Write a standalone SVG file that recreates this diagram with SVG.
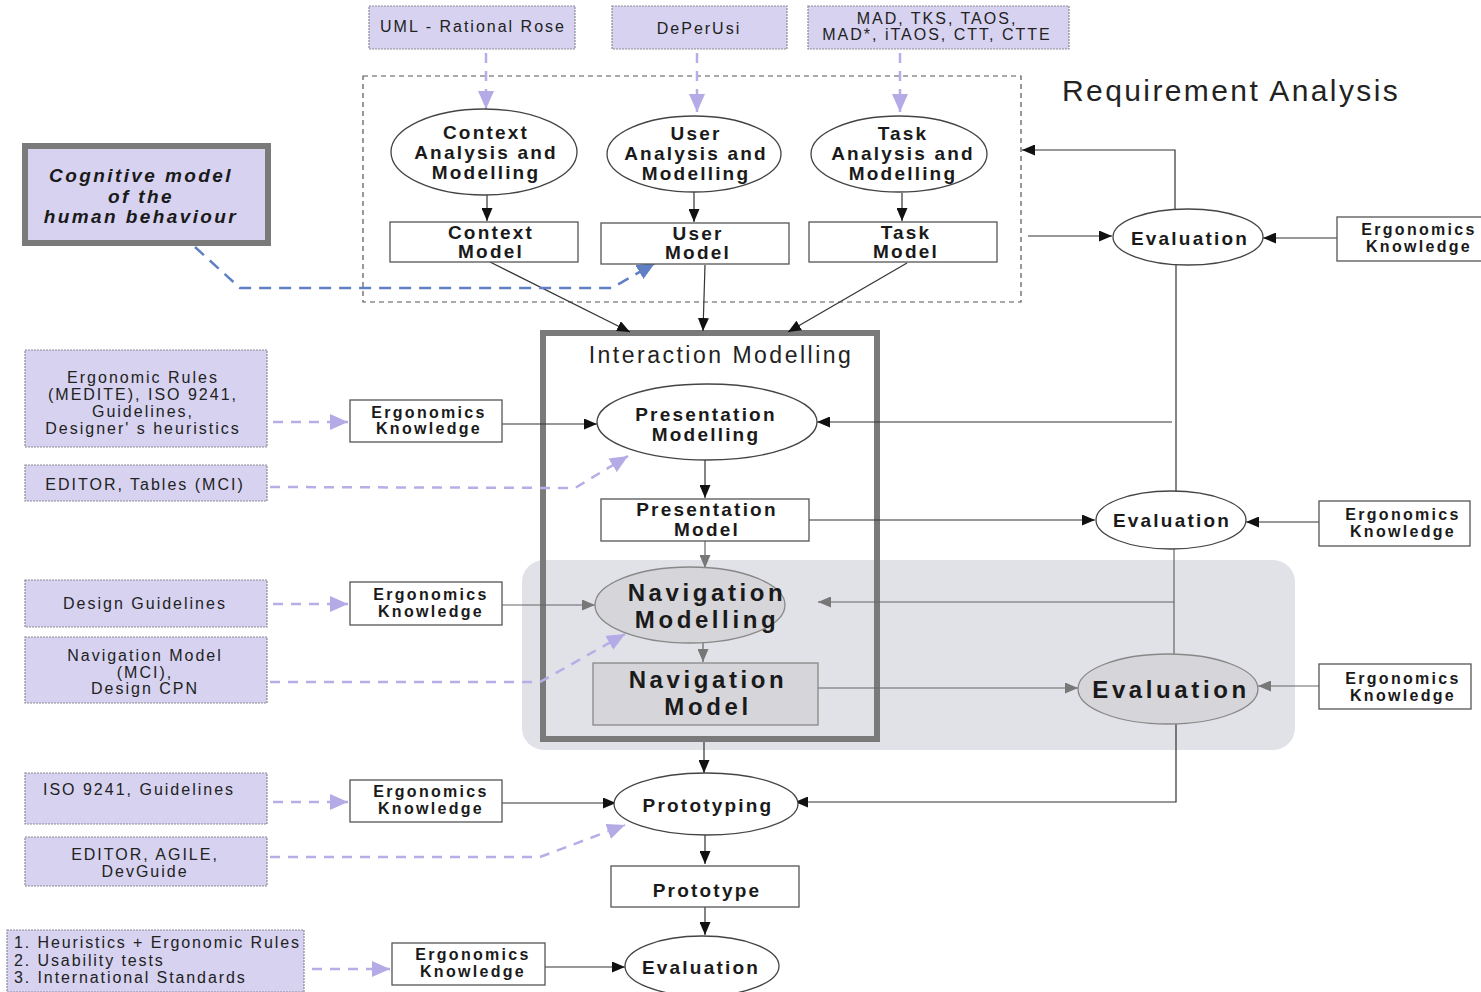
<svg xmlns="http://www.w3.org/2000/svg" width="1481" height="992" viewBox="0 0 1481 992">
  <style>
    .bg { fill: #ffffff; }
    .tool { fill: #d6d2f0; stroke: #8a8a96; stroke-width: 1.2; stroke-dasharray: 2 1; }
    .tooltxt { font-family: "Liberation Sans", Arial, sans-serif; font-size: 16px; letter-spacing: 2px; fill: #222; text-anchor: middle; }
    .tooltxt-left { font-family: "Liberation Sans", Arial, sans-serif; font-size: 16px; letter-spacing: 1.9px; fill: #222; text-anchor: start; }
    .box { fill: #ffffff; stroke: #555; stroke-width: 1.3; }
    .ell { fill: #ffffff; stroke: #444; stroke-width: 1.3; }
    .grayfill { fill: #d5d5da; stroke: #888; stroke-width: 1.3; }
    .lbl { font-family: "Liberation Sans", Arial, sans-serif; font-weight: bold; font-size: 19px; letter-spacing: 2.2px; fill: #1a1a1a; text-anchor: middle; }
    .lblsm { font-family: "Liberation Sans", Arial, sans-serif; font-weight: bold; font-size: 16px; letter-spacing: 2.3px; fill: #1a1a1a; text-anchor: middle; }
    .lblbig { font-family: "Liberation Sans", Arial, sans-serif; font-weight: bold; font-size: 24px; letter-spacing: 3.6px; fill: #1a1a1a; text-anchor: middle; }
    .lblit { font-family: "Liberation Sans", Arial, sans-serif; font-weight: bold; font-style: italic; font-size: 19px; letter-spacing: 2.4px; fill: #1a1a1a; text-anchor: middle; }
    .title { font-family: "Liberation Sans", Arial, sans-serif; font-size: 30px; letter-spacing: 2.4px; fill: #222; }
    .subtitle { font-family: "Liberation Sans", Arial, sans-serif; font-size: 23px; letter-spacing: 2.5px; fill: #222; text-anchor: middle; }
    .flow { fill: none; stroke: #333; stroke-width: 1.2; marker-end: url(#ah); }
    .flowg { fill: none; stroke: #666; stroke-width: 1.2; marker-end: url(#ahg); }
    .plain { fill: none; stroke: #333; stroke-width: 1.2; }
    .plaing { fill: none; stroke: #666; stroke-width: 1.2; }
    .tooldash { fill: none; stroke: #b6aee6; stroke-width: 2.5; stroke-dasharray: 10 8; marker-end: url(#ahl); }
    .bluedash { fill: none; stroke: #5f80c4; stroke-width: 2.5; stroke-dasharray: 12 8; marker-end: url(#ahb); }
  </style>
  <defs>
    <marker id="ah" markerUnits="userSpaceOnUse" markerWidth="13" markerHeight="11" refX="13" refY="5.5" orient="auto">
      <path d="M0,0 L13,5.5 L0,11 z" fill="#111"/>
    </marker>
    <marker id="ahg" markerUnits="userSpaceOnUse" markerWidth="13" markerHeight="11" refX="13" refY="5.5" orient="auto">
      <path d="M0,0 L13,5.5 L0,11 z" fill="#777"/>
    </marker>
    <marker id="ahl" markerUnits="userSpaceOnUse" markerWidth="18" markerHeight="16" refX="18" refY="8" orient="auto">
      <path d="M0,0 L18,8 L0,16 z" fill="#b3aae6"/>
    </marker>
    <marker id="ahb" markerUnits="userSpaceOnUse" markerWidth="18" markerHeight="16" refX="18" refY="8" orient="auto">
      <path d="M0,0 L18,8 L0,16 z" fill="#5f80c4"/>
    </marker>
  </defs>

  <rect class="bg" x="0" y="0" width="1481" height="992"/>

  <!-- navigation stage backdrop -->
  <rect id="navigation-zone" x="522" y="560" width="773" height="190" rx="22" fill="#e1e1e8"/>

  <!-- requirement analysis frame -->
  <g id="requirement-analysis">
    <rect x="363" y="76" width="658" height="226" fill="none" stroke="#555" stroke-width="1.2" stroke-dasharray="5 4"/>
    <text class="title" x="1062" y="101">Requirement Analysis</text>
  </g>

  <!-- interaction modelling frame -->
  <g id="interaction-modelling">
    <rect x="543" y="333" width="334" height="406" fill="none" stroke="#7a7a7a" stroke-width="6"/>
    <text class="subtitle" x="721" y="363">Interaction Modelling</text>
  </g>

  <!-- connectors -->
  <g id="connectors">
    <!-- tool inputs at the top -->
    <line class="tooldash" x1="486" y1="53" x2="486" y2="109"/>
    <line class="tooldash" x1="697" y1="53" x2="697" y2="112"/>
    <line class="tooldash" x1="900" y1="53" x2="900" y2="112"/>
    <!-- analysis to models -->
    <line class="flow" x1="487" y1="195" x2="487" y2="221"/>
    <line class="flow" x1="694" y1="192" x2="694" y2="222"/>
    <line class="flow" x1="902" y1="193" x2="902" y2="221"/>
    <!-- models into interaction modelling -->
    <line class="flow" x1="490" y1="262" x2="630" y2="332"/>
    <line class="flow" x1="705" y1="265" x2="703" y2="331"/>
    <line class="flow" x1="907" y1="263" x2="788" y2="332"/>
    <!-- cognitive model -->
    <polyline class="bluedash" points="195,247 240,288 612,288 655,263"/>
    <!-- first evaluation loop -->
    <line class="flow" x1="1028" y1="236" x2="1112" y2="236"/>
    <polyline class="flow" points="1175,209 1175,150 1022,150"/>
    <line class="flow" x1="1337" y1="238" x2="1263" y2="238"/>
    <line class="plain" x1="1176" y1="265" x2="1176" y2="492"/>
    <polyline class="flow" points="1172,422 817,422"/>
    <!-- presentation -->
    <line class="tooldash" x1="273" y1="422" x2="348" y2="422"/>
    <line class="flow" x1="502" y1="424" x2="597" y2="424"/>
    <polyline class="tooldash" points="270,487 575,488 628,456"/>
    <line class="flow" x1="705" y1="460" x2="705" y2="498"/>
    <line class="flow" x1="809" y1="520" x2="1095" y2="520"/>
    <line class="flow" x1="1319" y1="522" x2="1246" y2="522"/>
    <line class="flowg" x1="705" y1="541" x2="705" y2="568"/>
    <!-- navigation -->
    <line class="plaing" x1="1174" y1="549" x2="1174" y2="655"/>
    <polyline class="flowg" points="1174,602 818,602"/>
    <line class="tooldash" x1="273" y1="604" x2="348" y2="604"/>
    <line class="flowg" x1="502" y1="605" x2="595" y2="605"/>
    <polyline class="tooldash" points="270,682 540,682 625,634"/>
    <line class="flowg" x1="703" y1="643" x2="703" y2="662"/>
    <line class="flowg" x1="818" y1="688" x2="1078" y2="688"/>
    <line class="flowg" x1="1319" y1="686" x2="1258" y2="686"/>
    <!-- prototyping -->
    <line class="flow" x1="704" y1="742" x2="704" y2="773"/>
    <polyline class="flow" points="1176,724 1176,802 795,802"/>
    <line class="tooldash" x1="273" y1="802" x2="348" y2="802"/>
    <line class="flow" x1="502" y1="803" x2="616" y2="803"/>
    <polyline class="tooldash" points="270,857 540,857 625,825"/>
    <line class="flow" x1="705" y1="835" x2="705" y2="864"/>
    <line class="flow" x1="705" y1="907" x2="705" y2="935"/>
    <!-- final evaluation -->
    <line class="tooldash" x1="312" y1="969" x2="390" y2="969"/>
    <line class="flow" x1="545" y1="967" x2="625" y2="967"/>
  </g>

  <!-- tool boxes, top row -->
  <g id="tool-uml">
    <rect class="tool" x="369" y="6" width="206" height="43"/>
    <text class="tooltxt" x="473" y="32">UML - Rational Rose</text>
  </g>
  <g id="tool-deperusi">
    <rect class="tool" x="612" y="6" width="175" height="43"/>
    <text class="tooltxt" x="699" y="34">DePerUsi</text>
  </g>
  <g id="tool-task">
    <rect class="tool" x="808" y="6" width="261" height="43"/>
    <text class="tooltxt" x="937" y="24">MAD, TKS, TAOS,</text>
    <text class="tooltxt" x="937" y="40">MAD*, iTAOS, CTT, CTTE</text>
  </g>

  <!-- analysis nodes -->
  <g id="context-analysis">
    <ellipse class="ell" cx="484" cy="152" rx="93" ry="43"/>
    <text class="lbl" x="486" y="139">Context</text>
    <text class="lbl" x="486" y="159">Analysis and</text>
    <text class="lbl" x="486" y="179">Modelling</text>
  </g>
  <g id="user-analysis">
    <ellipse class="ell" cx="694" cy="154" rx="87" ry="38"/>
    <text class="lbl" x="696" y="140">User</text>
    <text class="lbl" x="696" y="160">Analysis and</text>
    <text class="lbl" x="696" y="180">Modelling</text>
  </g>
  <g id="task-analysis">
    <ellipse class="ell" cx="899" cy="154" rx="88" ry="38"/>
    <text class="lbl" x="903" y="140">Task</text>
    <text class="lbl" x="903" y="160">Analysis and</text>
    <text class="lbl" x="903" y="180">Modelling</text>
  </g>

  <g id="context-model">
    <rect class="box" x="390" y="222" width="188" height="40"/>
    <text class="lbl" x="491" y="239">Context</text>
    <text class="lbl" x="491" y="258">Model</text>
  </g>
  <g id="user-model">
    <rect class="box" x="601" y="223" width="188" height="41"/>
    <text class="lbl" x="698" y="240">User</text>
    <text class="lbl" x="698" y="259">Model</text>
  </g>
  <g id="task-model">
    <rect class="box" x="809" y="222" width="188" height="40"/>
    <text class="lbl" x="906" y="239">Task</text>
    <text class="lbl" x="906" y="258">Model</text>
  </g>

  <!-- cognitive model -->
  <g id="cognitive-model">
    <rect x="25" y="146" width="243" height="97" fill="#d6d2f0" stroke="#7a7a7a" stroke-width="6"/>
    <text class="lblit" x="141" y="182">Cognitive model</text>
    <text class="lblit" x="141" y="203">of the</text>
    <text class="lblit" x="141" y="223">human behaviour</text>
  </g>

  <!-- evaluation column -->
  <g id="evaluation-1">
    <ellipse class="ell" cx="1188" cy="237" rx="75" ry="28"/>
    <text class="lbl" x="1190" y="245">Evaluation</text>
  </g>
  <g id="ergo-eval-1">
    <rect class="box" x="1337" y="217" width="146" height="44"/>
    <text class="lblsm" x="1419" y="235">Ergonomics</text>
    <text class="lblsm" x="1419" y="252">Knowledge</text>
  </g>
  <g id="evaluation-2">
    <ellipse class="ell" cx="1171" cy="520" rx="75" ry="29"/>
    <text class="lbl" x="1172" y="527">Evaluation</text>
  </g>
  <g id="ergo-eval-2">
    <rect class="box" x="1319" y="501" width="151" height="45"/>
    <text class="lblsm" x="1403" y="520">Ergonomics</text>
    <text class="lblsm" x="1403" y="537">Knowledge</text>
  </g>
  <g id="evaluation-3">
    <ellipse class="grayfill" cx="1168" cy="689" rx="90" ry="35"/>
    <text class="lblbig" x="1171" y="698">Evaluation</text>
  </g>
  <g id="ergo-eval-3">
    <rect class="box" x="1319" y="664" width="152" height="45"/>
    <text class="lblsm" x="1403" y="684">Ergonomics</text>
    <text class="lblsm" x="1403" y="701">Knowledge</text>
  </g>

  <!-- presentation stage -->
  <g id="tool-ergonomic-rules">
    <rect class="tool" x="25" y="350" width="242" height="97"/>
    <text class="tooltxt" x="143" y="383">Ergonomic Rules</text>
    <text class="tooltxt" x="143" y="400">(MEDITE), ISO 9241,</text>
    <text class="tooltxt" x="143" y="417">Guidelines,</text>
    <text class="tooltxt" x="143" y="434">Designer' s heuristics</text>
  </g>
  <g id="tool-editor-tables">
    <rect class="tool" x="25" y="465" width="242" height="36"/>
    <text class="tooltxt" x="145" y="490">EDITOR, Tables (MCI)</text>
  </g>
  <g id="ergo-presentation">
    <rect class="box" x="350" y="400" width="152" height="42"/>
    <text class="lblsm" x="429" y="418">Ergonomics</text>
    <text class="lblsm" x="429" y="434">Knowledge</text>
  </g>
  <g id="presentation-modelling">
    <ellipse class="ell" cx="707" cy="422" rx="110" ry="38"/>
    <text class="lbl" x="706" y="421">Presentation</text>
    <text class="lbl" x="706" y="441">Modelling</text>
  </g>
  <g id="presentation-model">
    <rect class="box" x="601" y="499" width="208" height="42"/>
    <text class="lbl" x="707" y="516">Presentation</text>
    <text class="lbl" x="707" y="536">Model</text>
  </g>

  <!-- navigation stage -->
  <g id="tool-design-guidelines">
    <rect class="tool" x="25" y="580" width="242" height="47"/>
    <text class="tooltxt" x="145" y="609">Design Guidelines</text>
  </g>
  <g id="tool-navigation-model">
    <rect class="tool" x="25" y="637" width="242" height="66"/>
    <text class="tooltxt" x="145" y="661">Navigation Model</text>
    <text class="tooltxt" x="145" y="678">(MCI),</text>
    <text class="tooltxt" x="145" y="694">Design CPN</text>
  </g>
  <g id="ergo-navigation">
    <rect class="box" x="350" y="582" width="152" height="43"/>
    <text class="lblsm" x="431" y="600">Ergonomics</text>
    <text class="lblsm" x="431" y="617">Knowledge</text>
  </g>
  <g id="navigation-modelling">
    <ellipse class="grayfill" cx="690" cy="605" rx="95" ry="38"/>
    <text class="lblbig" x="707" y="601">Navigation</text>
    <text class="lblbig" x="707" y="628">Modelling</text>
  </g>
  <g id="navigation-model">
    <rect class="grayfill" x="593" y="663" width="225" height="62"/>
    <text class="lblbig" x="708" y="688">Navigation</text>
    <text class="lblbig" x="708" y="715">Model</text>
  </g>

  <!-- prototyping stage -->
  <g id="tool-iso">
    <rect class="tool" x="25" y="773" width="242" height="51"/>
    <text class="tooltxt" x="139" y="795">ISO 9241, Guidelines</text>
  </g>
  <g id="tool-editor-agile">
    <rect class="tool" x="25" y="837" width="242" height="49"/>
    <text class="tooltxt" x="145" y="860">EDITOR, AGILE,</text>
    <text class="tooltxt" x="145" y="877">DevGuide</text>
  </g>
  <g id="ergo-prototyping">
    <rect class="box" x="350" y="780" width="152" height="42"/>
    <text class="lblsm" x="431" y="797">Ergonomics</text>
    <text class="lblsm" x="431" y="814">Knowledge</text>
  </g>
  <g id="prototyping">
    <ellipse class="ell" cx="706" cy="804" rx="92" ry="31"/>
    <text class="lbl" x="708" y="812">Prototyping</text>
  </g>
  <g id="prototype">
    <rect class="box" x="611" y="866" width="188" height="41"/>
    <text class="lbl" x="707" y="897">Prototype</text>
  </g>

  <!-- final evaluation -->
  <g id="tool-evaluation-methods">
    <rect class="tool" x="7" y="930" width="297" height="62"/>
    <text class="tooltxt-left" x="14" y="948">1. Heuristics + Ergonomic Rules</text>
    <text class="tooltxt-left" x="14" y="966">2. Usability tests</text>
    <text class="tooltxt-left" x="14" y="983">3. International Standards</text>
  </g>
  <g id="ergo-evaluation">
    <rect class="box" x="392" y="943" width="153" height="42"/>
    <text class="lblsm" x="473" y="960">Ergonomics</text>
    <text class="lblsm" x="473" y="977">Knowledge</text>
  </g>
  <g id="evaluation-final">
    <ellipse class="ell" cx="702" cy="966" rx="77" ry="30"/>
    <text class="lbl" x="701" y="974">Evaluation</text>
  </g>
</svg>
